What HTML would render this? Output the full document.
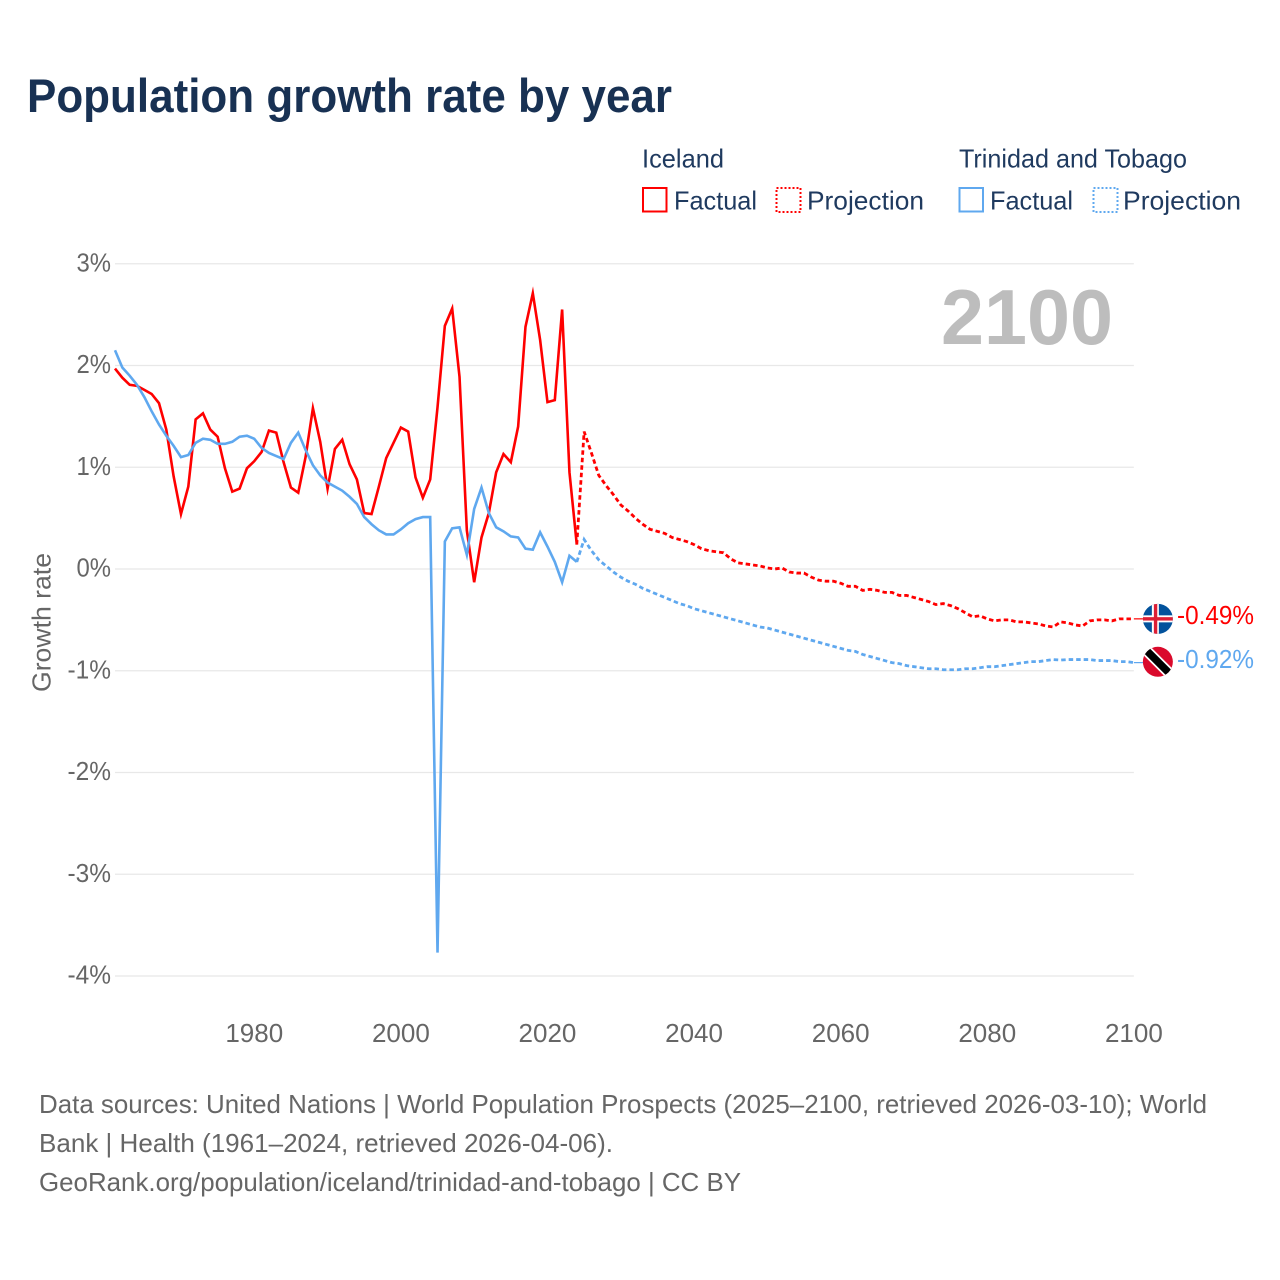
<!DOCTYPE html>
<html lang="en">
<head>
<meta charset="utf-8">
<title>Population growth rate by year</title>
<style>
html,body{margin:0;padding:0;background:#fff;}
svg{display:block;}
text{font-family:"Liberation Sans",sans-serif;}
</style>
</head>
<body>
<svg id="chart" xmlns="http://www.w3.org/2000/svg" width="1280" height="1280" viewBox="0 0 1280 1280">
  <rect x="0" y="0" width="1280" height="1280" fill="#fff"/>
  <text x="27" y="112" font-size="47" font-weight="700" fill="#183153" textLength="645" lengthAdjust="spacingAndGlyphs">Population growth rate by year</text>

  <g fill="#1f3a5f" font-size="26">
    <text x="642" y="167.5" textLength="82" lengthAdjust="spacingAndGlyphs">Iceland</text>
    <text x="959" y="167.5" textLength="228" lengthAdjust="spacingAndGlyphs">Trinidad and Tobago</text>
    <g>
      <rect x="643" y="188" width="23.5" height="23.5" fill="none" stroke="#ff0000" stroke-width="2"/>
      <text x="674" y="209.5" textLength="83" lengthAdjust="spacingAndGlyphs">Factual</text>
    </g>
    <g>
      <rect x="776.5" y="188" width="24" height="24" fill="none" stroke="#ff0000" stroke-width="2" stroke-dasharray="2 2"/>
      <text x="807" y="209.5" textLength="117" lengthAdjust="spacingAndGlyphs">Projection</text>
    </g>
    <g>
      <rect x="959.5" y="188" width="23.5" height="23.5" fill="none" stroke="#5fa8ef" stroke-width="2"/>
      <text x="990" y="209.5" textLength="83" lengthAdjust="spacingAndGlyphs">Factual</text>
    </g>
    <g>
      <rect x="1093.5" y="188" width="24" height="24" fill="none" stroke="#5fa8ef" stroke-width="2" stroke-dasharray="2 2"/>
      <text x="1123" y="209.5" textLength="118" lengthAdjust="spacingAndGlyphs">Projection</text>
    </g>
  </g>

  <g id="grid"></g>
  <g id="yticks" fill="#666" font-size="26"></g>
  <g id="xticks" fill="#666" font-size="26"></g>
  <text transform="translate(50.5,692) rotate(-90)" font-size="26" fill="#666" textLength="139" lengthAdjust="spacingAndGlyphs">Growth rate</text>
  <text x="941" y="344" font-size="78" font-weight="700" fill="#bdbdbd" textLength="172" lengthAdjust="spacingAndGlyphs">2100</text>

  <g id="series"></g>

  <defs>
    <clipPath id="flag-clip"><circle cx="0" cy="0" r="15"/></clipPath>
  </defs>
  <g id="flag-iceland">
    <g clip-path="url(#flag-clip)">
      <rect x="-16" y="-16" width="32" height="32" fill="#02529c"/>
      <rect x="-6" y="-16" width="7" height="32" fill="#fff"/>
      <rect x="-16" y="-3.5" width="32" height="7" fill="#fff"/>
      <rect x="-4" y="-16" width="3.4" height="32" fill="#dc1e35"/>
      <rect x="-16" y="-1.7" width="32" height="3.4" fill="#dc1e35"/>
    </g>
  </g>
  <g id="flag-trinidad">
    <g clip-path="url(#flag-clip)">
      <rect x="-16" y="-16" width="32" height="32" fill="#da0a2c"/>
      <line x1="-16" y1="-16" x2="16" y2="16" stroke="#fff" stroke-width="11"/>
      <line x1="-16" y1="-16" x2="16" y2="16" stroke="#000" stroke-width="7.5"/>
    </g>
  </g>
  <text id="value-iceland" x="1177" y="624" font-size="26" fill="#ff0000" textLength="77" lengthAdjust="spacingAndGlyphs"></text>
  <text id="value-trinidad" x="1177" y="668" font-size="26" fill="#5fa8ef" textLength="77" lengthAdjust="spacingAndGlyphs"></text>

  <g fill="#666" font-size="26">
    <text x="39" y="1113" textLength="1168" lengthAdjust="spacingAndGlyphs">Data sources: United Nations | World Population Prospects (2025–2100, retrieved 2026-03-10); World</text>
    <text x="39" y="1152" textLength="574" lengthAdjust="spacingAndGlyphs">Bank | Health (1961–2024, retrieved 2026-04-06).</text>
    <text x="39" y="1191" textLength="702" lengthAdjust="spacingAndGlyphs">GeoRank.org/population/iceland/trinidad-and-tobago | CC BY</text>
  </g>
</svg>
<script>
const yTickValues = [3, 2, 1, 0, -1, -2, -3, -4];
const xTickYears = [1980, 2000, 2020, 2040, 2060, 2080, 2100];
const factualStartYear = 1961;
const projectionStartYear = 2025;

const icelandFactual = [1.97,1.88,1.81,1.80,1.76,1.72,1.63,1.37,0.91,0.54,0.81,1.47,1.53,1.37,1.30,0.99,0.76,0.79,0.99,1.06,1.15,1.36,1.34,1.05,0.80,0.75,1.10,1.58,1.25,0.79,1.18,1.27,1.03,0.88,0.55,0.54,0.81,1.09,1.24,1.39,1.35,0.90,0.70,0.88,1.59,2.39,2.56,1.89,0.38,-0.13,0.31,0.55,0.95,1.13,1.05,1.40,2.38,2.71,2.25,1.64,1.66,2.55,0.95,0.24];
const trinidadFactual = [2.15,1.98,1.90,1.81,1.69,1.55,1.42,1.31,1.21,1.10,1.12,1.24,1.28,1.27,1.23,1.23,1.25,1.30,1.31,1.28,1.19,1.14,1.11,1.08,1.24,1.34,1.17,1.02,0.92,0.85,0.81,0.77,0.71,0.64,0.51,0.44,0.38,0.34,0.34,0.39,0.45,0.49,0.51,0.51,-3.77,0.27,0.40,0.41,0.14,0.59,0.80,0.55,0.41,0.37,0.32,0.31,0.20,0.19,0.36,0.22,0.07,-0.13,0.13,0.07];
const icelandProjection = [1.35,1.14,0.92,0.82,0.73,0.63,0.57,0.50,0.44,0.39,0.37,0.35,0.31,0.29,0.27,0.24,0.20,0.18,0.17,0.16,0.10,0.06,0.05,0.04,0.03,0.01,0.00,0.01,-0.03,-0.04,-0.04,-0.08,-0.11,-0.12,-0.12,-0.14,-0.17,-0.17,-0.21,-0.20,-0.21,-0.23,-0.23,-0.26,-0.26,-0.28,-0.30,-0.32,-0.35,-0.34,-0.36,-0.39,-0.43,-0.47,-0.46,-0.49,-0.51,-0.50,-0.50,-0.52,-0.52,-0.53,-0.54,-0.56,-0.57,-0.52,-0.53,-0.55,-0.56,-0.51,-0.50,-0.50,-0.51,-0.49,-0.49,-0.49];
const trinidadProjection = [0.29,0.18,0.09,0.03,-0.03,-0.08,-0.12,-0.15,-0.19,-0.22,-0.25,-0.28,-0.31,-0.34,-0.36,-0.39,-0.41,-0.43,-0.45,-0.47,-0.49,-0.51,-0.53,-0.55,-0.57,-0.58,-0.60,-0.62,-0.64,-0.66,-0.68,-0.70,-0.72,-0.74,-0.76,-0.78,-0.80,-0.81,-0.84,-0.86,-0.88,-0.90,-0.92,-0.93,-0.95,-0.96,-0.97,-0.98,-0.98,-0.99,-0.99,-0.99,-0.98,-0.98,-0.97,-0.96,-0.96,-0.95,-0.94,-0.93,-0.92,-0.91,-0.91,-0.90,-0.89,-0.895,-0.89,-0.89,-0.89,-0.89,-0.90,-0.90,-0.90,-0.91,-0.91,-0.92];

const NS = 'http://www.w3.org/2000/svg';
const plotLeft = 115, pxPerYear = 7.33, zeroY = 569, pxPerUnit = 101.75;
function xScale(year) { return plotLeft + (year - factualStartYear) * pxPerYear; }
function yScale(value) { return zeroY - value * pxPerUnit; }

function estimateLabelWidth(label) {
  let w = 0;
  for (const ch of String(label)) { w += ch === '%' ? 20 : ch === '-' ? 9 : 14.5; }
  return w;
}
function pathFrom(years, values) {
  return values.map(function (v, i) {
    return (i ? 'L' : 'M') + xScale(years[i]).toFixed(2) + ' ' + yScale(v).toFixed(2);
  }).join(' ');
}
function yearsFrom(start, count) {
  const out = [];
  for (let i = 0; i < count; i++) { out.push(start + i); }
  return out;
}

const gridGroup = document.getElementById('grid');
const yTickGroup = document.getElementById('yticks');
yTickValues.forEach(function (v) {
  const gl = document.createElementNS(NS, 'line');
  
  
  gl.setAttribute('x1', xScale(factualStartYear));
  gl.setAttribute('x2', xScale(2100));
  gl.setAttribute('y1', yScale(v));
  gl.setAttribute('y2', yScale(v));
  gl.setAttribute('stroke', '#e8e8e8');
  gl.setAttribute('stroke-width', '1.3');
  gridGroup.appendChild(gl);

  const label = v + '%';
  const t = document.createElementNS(NS, 'text');
  
  
  const w = estimateLabelWidth(label);
  t.setAttribute('x', 111 - w);
  t.setAttribute('y', yScale(v) + 7.5);
  t.setAttribute('textLength', w);
  t.setAttribute('lengthAdjust', 'spacingAndGlyphs');
  t.textContent = label;
  yTickGroup.appendChild(t);
});

const xTickGroup = document.getElementById('xticks');
xTickYears.forEach(function (year) {
  const t = document.createElementNS(NS, 'text');
  
  
  t.setAttribute('x', xScale(year));
  t.setAttribute('y', 1042);
  t.setAttribute('text-anchor', 'middle');
  t.textContent = year;
  xTickGroup.appendChild(t);
});

const seriesGroup = document.getElementById('series');
function drawSeries(name, color, factual, projection) {
  const fy = yearsFrom(factualStartYear, factual.length);
  const py = yearsFrom(projectionStartYear, projection.length);

  const f = document.createElementNS(NS, 'path');
  
  
  f.setAttribute('d', pathFrom(fy, factual));
  f.setAttribute('fill', 'none');
  f.setAttribute('stroke', color);
  f.setAttribute('stroke-width', '2.6');
  f.setAttribute('stroke-linejoin', 'miter');
  f.setAttribute('stroke-miterlimit', '6');
  seriesGroup.appendChild(f);

  const p = document.createElementNS(NS, 'path');
  
  
  p.setAttribute('d', pathFrom([fy[fy.length - 1]].concat(py), [factual[factual.length - 1]].concat(projection)));
  p.setAttribute('fill', 'none');
  p.setAttribute('stroke', color);
  p.setAttribute('stroke-width', '2.8');
  p.setAttribute('stroke-dasharray', '4.5 3');
  seriesGroup.appendChild(p);

  const endValue = projection[projection.length - 1];
  const c = document.createElementNS(NS, 'line');
  
  
  c.setAttribute('x1', xScale(2100));
  c.setAttribute('x2', xScale(2100) + 10);
  c.setAttribute('y1', yScale(endValue));
  c.setAttribute('y2', yScale(endValue));
  c.setAttribute('stroke', color);
  c.setAttribute('stroke-width', '1.2');
  seriesGroup.appendChild(c);
  return endValue;
}
const icelandEnd = drawSeries('iceland', '#ff0000', icelandFactual, icelandProjection);
const trinidadEnd = drawSeries('trinidad', '#5fa8ef', trinidadFactual, trinidadProjection);

document.getElementById('flag-iceland').setAttribute('transform', 'translate(' + (xScale(2100) + 24) + ',' + yScale(icelandEnd) + ')');
document.getElementById('flag-trinidad').setAttribute('transform', 'translate(' + (xScale(2100) + 24) + ',' + (yScale(trinidadEnd) - 0.8) + ')');
const icelandLabel = document.getElementById('value-iceland');
icelandLabel.setAttribute('y', yScale(icelandEnd) + 5);
icelandLabel.textContent = icelandEnd.toFixed(2) + '%';
const trinidadLabel = document.getElementById('value-trinidad');
trinidadLabel.setAttribute('y', yScale(trinidadEnd) + 5.5);
trinidadLabel.textContent = trinidadEnd.toFixed(2) + '%';
</script>
</body>
</html>
